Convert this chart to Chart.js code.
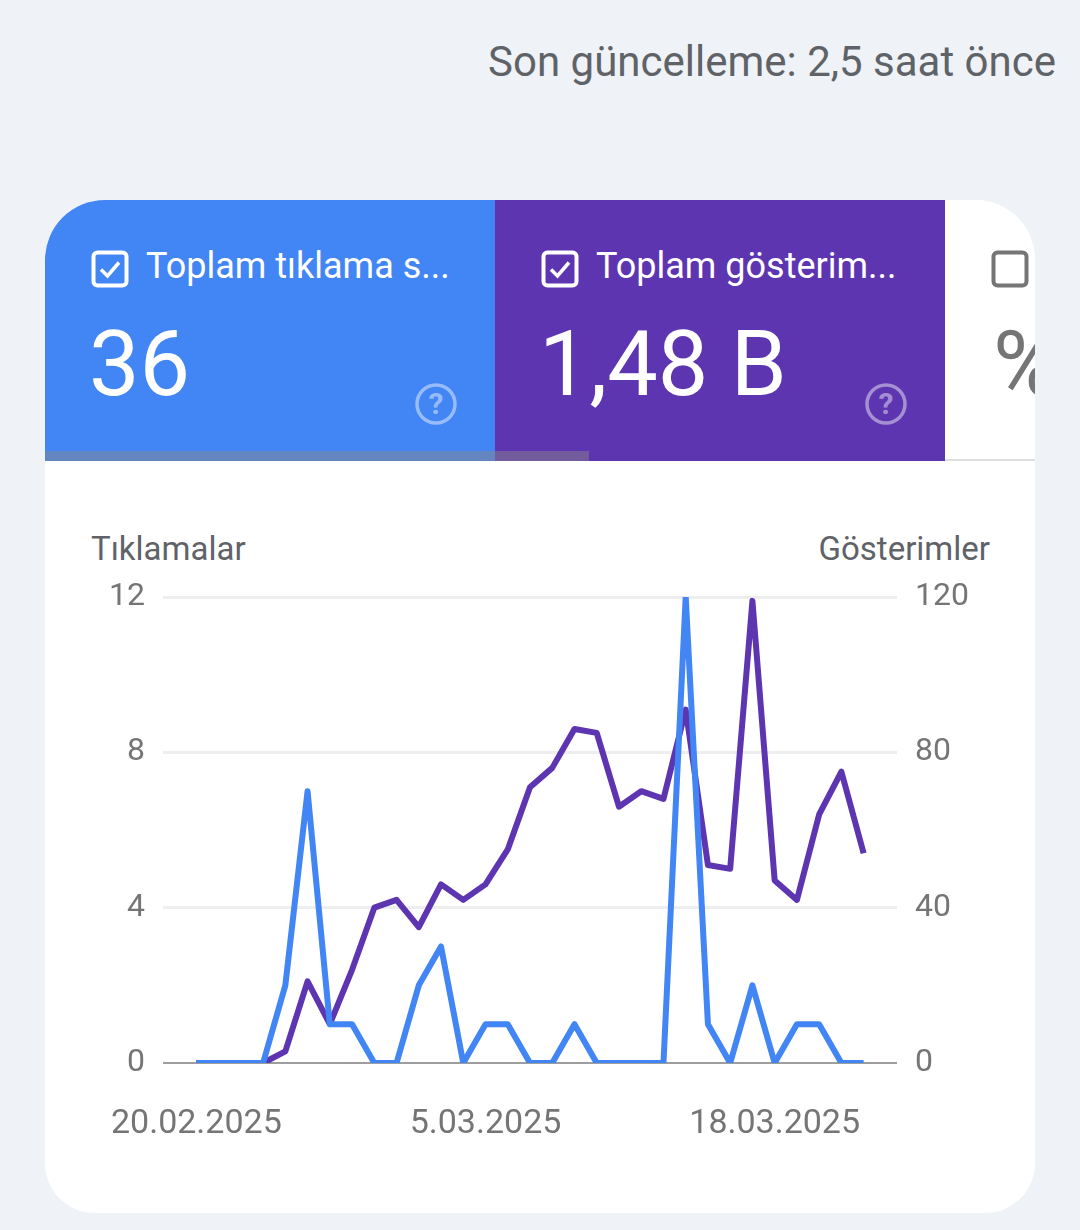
<!DOCTYPE html>
<html lang="tr">
<head>
<meta charset="utf-8">
<script src="https://cdn.jsdelivr.net/npm/chart.js@4"></script>
<style>
  html, body { margin: 0; padding: 0; }
  body {
    width: 1080px; height: 1230px; position: relative; overflow: hidden;
    background: #eff3f8; font-family: Roboto, "Noto Sans", sans-serif;
  }
  .updated {
    position: absolute; right: 24px; top: 37px;
    font-size: 42px; color: #5f6368; white-space: nowrap;
  }
  .card {
    position: absolute; left: 45px; top: 200px; width: 990px; height: 1013px;
    background: #fff; border-radius: 60px 60px 50px 50px; overflow: hidden;
  }
  .tile { position: absolute; top: 0; height: 261px; }
  .tile.clicks { left: 0; width: 450px; background: #4285f4; }
  .tile.impr { left: 450px; width: 450px; background: #5e35b1; }
  .tile.ctr { left: 900px; width: 90px; background: #fff; border-bottom: 2px solid #e0e0e0; height: 259px; }
  .tile .title {
    position: absolute; left: 101px; top: 45px; font-size: 36px; color: #fff; white-space: nowrap;
  }
  .tile .value {
    position: absolute; left: 44px; top: 112px; font-size: 90px; color: #fff; white-space: nowrap;
  }
  .cb { position: absolute; left: 46px; top: 50px; width: 38px; height: 38px; }
  .help { position: absolute; left: 369px; top: 182px; width: 44px; height: 44px; }
  .strip {
    position: absolute; left: 0; top: 251px; width: 544px; height: 10px;
    background: rgba(135,135,135,0.48);
  }
  .axis-title { position: absolute; top: 329px; font-size: 33px; color: #5f6368; }
  canvas { position: absolute; left: 0; top: 261px; }
</style>
</head>
<body>
<div class="updated">Son güncelleme: 2,5 saat önce</div>
<div class="card">
  <div class="tile clicks">
    <svg class="cb" viewBox="0 0 38 38"><rect x="2.5" y="2.5" width="33" height="33" rx="4" fill="none" stroke="#fff" stroke-width="4"/><path d="M10 19.5 L16.5 26 L28 12.5" fill="none" stroke="#fff" stroke-width="3.5"/></svg>
    <div class="title">Toplam tıklama s...</div>
    <div class="value">36</div>
    <svg class="help" viewBox="0 0 44 44"><circle cx="22" cy="22" r="19" fill="none" stroke="rgba(255,255,255,0.45)" stroke-width="3.5"/><text x="22" y="32" text-anchor="middle" font-family="Roboto" font-weight="bold" font-size="30" fill="rgba(255,255,255,0.45)">?</text></svg>
  </div>
  <div class="tile impr">
    <svg class="cb" viewBox="0 0 38 38"><rect x="2.5" y="2.5" width="33" height="33" rx="4" fill="none" stroke="#fff" stroke-width="4"/><path d="M10 19.5 L16.5 26 L28 12.5" fill="none" stroke="#fff" stroke-width="3.5"/></svg>
    <div class="title">Toplam gösterim...</div>
    <div class="value">1,48 B</div>
    <svg class="help" viewBox="0 0 44 44"><circle cx="22" cy="22" r="19" fill="none" stroke="rgba(255,255,255,0.45)" stroke-width="3.5"/><text x="22" y="32" text-anchor="middle" font-family="Roboto" font-weight="bold" font-size="30" fill="rgba(255,255,255,0.45)">?</text></svg>
  </div>
  <div class="tile ctr">
    <svg class="cb" viewBox="0 0 38 38"><rect x="2.5" y="2.5" width="33" height="33" rx="4" fill="none" stroke="#757575" stroke-width="4"/></svg>
    <div class="value" style="left:48px;color:#757575;">%</div>
  </div>
  <div class="strip"></div>
  <div class="axis-title" style="left:46px;">Tıklamalar</div>
  <div class="axis-title" style="right:45px;">Gösterimler</div>
  <canvas id="perfChart" width="990" height="752"></canvas>
</div>

<script>
const dates = [
  '20.02.2025', '21.02.2025', '22.02.2025', '23.02.2025', '24.02.2025', '25.02.2025',
  '26.02.2025', '27.02.2025', '28.02.2025', '1.03.2025', '2.03.2025', '3.03.2025',
  '4.03.2025', '5.03.2025', '6.03.2025', '7.03.2025', '8.03.2025', '9.03.2025',
  '10.03.2025', '11.03.2025', '12.03.2025', '13.03.2025', '14.03.2025', '15.03.2025',
  '16.03.2025', '17.03.2025', '18.03.2025', '19.03.2025', '20.03.2025', '21.03.2025',
  '22.03.2025'
];
const clicks = [0, 0, 0, 0, 2, 7, 1, 1, 0, 0, 2, 3, 0, 1, 1, 0, 0, 1, 0, 0, 0, 0, 12, 1, 0, 2, 0, 1, 1, 0, 0];
const impressions = [0, 0, 0, 0, 3, 21, 10, 24, 40, 42, 35, 46, 42, 46, 55, 71, 76, 86, 85, 66, 70, 68, 91, 51, 50, 119, 47, 42, 64, 75, 54];
const dateTicks = ['20.02.2025', '5.03.2025', '18.03.2025'];
const clickTicks = [0, 4, 8, 12];
const imprTicks = [0, 40, 80, 120];

const tickFont = { family: 'Roboto', size: 32 };
const tickColor = '#757575';

function toPoints(values) {
  return values.map((v, i) => ({ x: i, y: v }));
}

function createPerformanceChart(chartId) {
  const ctx = document.getElementById(chartId);

  ctx.chartInstance = new Chart(ctx, {
    type: 'line',
    data: {
      datasets: [{
        label: 'Tıklamalar',
        data: toPoints(clicks),
        yAxisID: 'yClicks',
        borderColor: '#4285f4',
        borderWidth: 6,
        borderJoinStyle: 'round',
        pointRadius: 0,
        tension: 0
      }, {
        label: 'Gösterimler',
        data: toPoints(impressions),
        yAxisID: 'yImpr',
        borderColor: '#5e35b1',
        borderWidth: 6,
        borderJoinStyle: 'round',
        pointRadius: 0,
        tension: 0
      }]
    },
    options: {
      responsive: false,
      animation: false,
      devicePixelRatio: 1,
      layout: { padding: { top: 136, left: 0, right: 0, bottom: 0 } },
      scales: {
        x: {
          type: 'linear',
          min: -1.5,
          max: dates.length + 0.5,
          grid: { display: false },
          border: { display: false },
          afterBuildTicks: scale => {
            scale.ticks = dateTicks.map(d => ({ value: dates.indexOf(d) }));
          },
          afterFit: scale => { scale.height = 150; },
          ticks: {
            font: { family: 'Roboto', size: 34 },
            color: tickColor,
            padding: 33,
            maxRotation: 0,
            autoSkip: false,
            callback: value => dates[value]
          }
        },
        yClicks: {
          position: 'left',
          min: 0,
          max: 12,
          afterBuildTicks: scale => {
            scale.ticks = clickTicks.map(v => ({ value: v }));
          },
          afterFit: scale => { scale.width = 118; },
          border: { display: false },
          grid: {
            drawTicks: false,
            lineWidth: ctx => ctx.tick.value === 0 ? 2 : 3,
            color: ctx => ctx.tick.value === 0 ? '#9e9e9e' : '#eeeeee'
          },
          ticks: { font: tickFont, color: tickColor, padding: 18 }
        },
        yImpr: {
          position: 'right',
          min: 0,
          max: 120,
          afterBuildTicks: scale => {
            scale.ticks = imprTicks.map(v => ({ value: v }));
          },
          afterFit: scale => { scale.width = 138; },
          border: { display: false },
          grid: { display: false, drawTicks: false },
          ticks: { font: tickFont, color: tickColor, padding: 18 }
        }
      },
      plugins: {
        legend: { display: false },
        tooltip: { enabled: false }
      }
    }
  });
}

createPerformanceChart('perfChart');
</script>
</body>
</html>
